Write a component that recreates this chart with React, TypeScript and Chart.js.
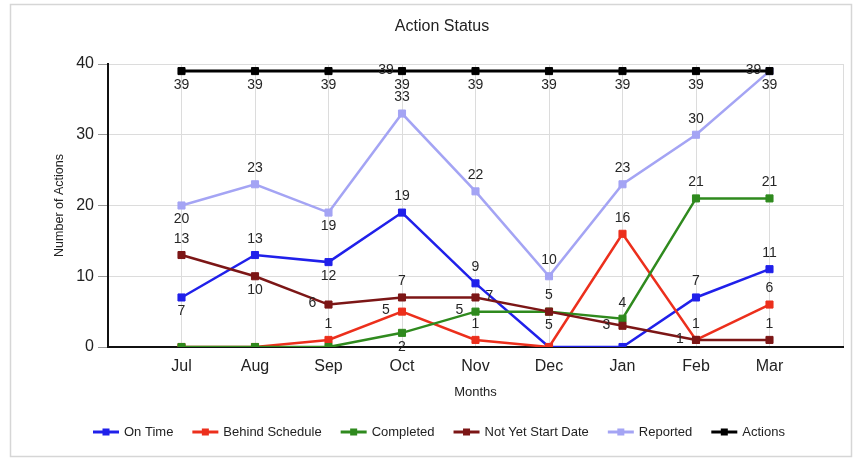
import React, { useEffect, useRef } from 'react';
import { Chart, registerables } from 'chart.js';

Chart.register(...registerables);

const months = ['Jul', 'Aug', 'Sep', 'Oct', 'Nov', 'Dec', 'Jan', 'Feb', 'Mar'];
const yTicks = [0, 10, 20, 30, 40];
const seriesNames = ['On Time', 'Behind Schedule', 'Completed', 'Not Yet Start Date', 'Reported', 'Actions'];

const onTime = [7, 13, 12, 19, 9, 0, 0, 7, 11];
const behindSchedule = [0, 0, 1, 5, 1, 0, 16, 1, 6];
const completed = [0, 0, 0, 2, 5, 5, 4, 21, 21];
const notYetStart = [13, 10, 6, 7, 7, 5, 3, 1, 1];
const reported = [20, 23, 19, 33, 22, 10, 23, 30, 39];
const actions = [39, 39, 39, 39, 39, 39, 39, 39, 39];

// label placement per point: a = above, b = below, l = left, r = right, '' = none
const onTimePos = ['b', 'a', 'b', 'a', 'a', '', '', 'a', 'a'];
const behindPos = ['', '', 'a', 'l', 'a', '', 'a', 'a', 'a'];
const completedPos = ['', '', '', 'b', 'l', 'a', 'a', 'a', 'a'];
const notYetPos = ['a', 'b', 'l', 'a', 'r', 'b', 'l', 'l', 'a'];
const reportedPos = ['b', 'a', 'b', 'a', 'a', 'a', 'a', 'a', 'l'];
const actionsPos = ['b', 'b', 'b', 'lb', 'b', 'b', 'b', 'b', 'b'];

const colors = ['#2020ea', '#ec2f1c', '#2f8a1e', '#7c1616', '#a4a4f4', '#000000'];
const seriesValues = [onTime, behindSchedule, completed, notYetStart, reported, actions];
const seriesPos = [onTimePos, behindPos, completedPos, notYetPos, reportedPos, actionsPos];

const FONT = "'Liberation Sans', Arial, Helvetica, sans-serif";

const decorPlugin = {
  id: 'decor',
  beforeDraw(chart: any) {
    const ctx = chart.ctx;
    ctx.save();
    ctx.fillStyle = '#ffffff';
    ctx.fillRect(0, 0, chart.width, chart.height);
    ctx.strokeStyle = '#d6d6d6';
    ctx.lineWidth = 1.5;
    ctx.strokeRect(10.5, 4.5, 841, 452);
    ctx.restore();
  },
  afterDatasetsDraw(chart: any) {
    const ctx = chart.ctx;
    ctx.save();
    ctx.font = `14px ${FONT}`;
    ctx.fillStyle = '#262626';
    ctx.textAlign = 'center';
    ctx.textBaseline = 'middle';
    chart.data.datasets.forEach((ds: any, di: number) => {
      const meta = chart.getDatasetMeta(di);
      const pos = seriesPos[di];
      meta.data.forEach((pt: any, i: number) => {
        const v = seriesValues[di][i];
        const p = pos[i] || '';
        for (const c of p) {
          let x = pt.x;
          let y = pt.y;
          if (c === 'a') y -= 16;
          if (c === 'b') y += 14;
          if (c === 'l') { x -= 16; y -= 1; }
          if (c === 'r') { x += 14; y -= 1; }
          ctx.fillText(String(v), x, y);
        }
      });
    });
    ctx.restore();
  },
  afterDraw(chart: any) {
    const ctx = chart.ctx;
    ctx.save();
    // title
    ctx.font = `16px ${FONT}`;
    ctx.fillStyle = '#222';
    ctx.textAlign = 'center';
    ctx.textBaseline = 'middle';
    ctx.fillText('Action Status', 442, 27);
    // legend
    ctx.font = `13px ${FONT}`;
    ctx.textAlign = 'left';
    let x = 93;
    const y = 432;
    chart.data.datasets.forEach((ds: any) => {
      ctx.strokeStyle = ds.borderColor;
      ctx.fillStyle = ds.borderColor;
      ctx.lineWidth = 3;
      ctx.beginPath();
      ctx.moveTo(x, y);
      ctx.lineTo(x + 26, y);
      ctx.stroke();
      ctx.fillRect(x + 13 - 3.5, y - 3.5, 7, 7);
      ctx.fillStyle = '#222';
      ctx.fillText(ds.label, x + 31, y);
      x += 31 + ctx.measureText(ds.label).width + 19;
    });
    ctx.restore();
  },
};

export default function App() {
  const ref = useRef<HTMLCanvasElement | null>(null);

  useEffect(() => {
    document.body.style.margin = '0';
    const canvas = ref.current;
    if (!canvas) return;
    const datasets = seriesNames.map((name, di) => ({
      label: name,
      data: months.map((_, i) => ({ x: i + 1, y: seriesValues[di][i] })),
      borderColor: colors[di],
      backgroundColor: colors[di],
      borderWidth: di === 5 ? 3 : 2.5,
      pointStyle: 'rect',
      pointRadius: 5,
      pointBorderWidth: 1,
      tension: 0,
      order: seriesNames.length - di,
    }));
    const chart = new Chart(canvas, {
      type: 'line',
      data: { datasets },
      plugins: [decorPlugin],
      options: {
        responsive: false,
        animation: false,
        devicePixelRatio: 1,
        layout: { padding: { left: 0, right: 21, top: 64, bottom: 50 } },
        plugins: {
          legend: { display: false },
          title: { display: false },
          tooltip: { enabled: false },
        },
        scales: {
          x: {
            type: 'linear',
            min: 0,
            max: months.length + 1,
            afterFit: (s: any) => { s.height = 61; },
            afterBuildTicks: (s: any) => {
              s.ticks = Array.from({ length: months.length + 2 }, (_, i) => ({ value: i }));
            },
            ticks: {
              autoSkip: false,
              maxRotation: 0,
              padding: 10,
              color: '#222',
              font: { family: FONT, size: 16 },
              callback: (v: any) => months[Number(v) - 1] ?? '',
            },
            grid: { color: '#dcdcdc', lineWidth: 1, drawTicks: false },
            border: { color: '#111', width: 2 },
            title: {
              display: true,
              text: 'Months',
              color: '#222',
              font: { family: FONT, size: 13 },
              padding: { top: 0, bottom: 8 },
            },
          },
          y: {
            min: 0,
            max: 40,
            afterFit: (s: any) => { s.width = 108; },
            afterBuildTicks: (s: any) => {
              s.ticks = yTicks.map((v) => ({ value: v }));
            },
            ticks: {
              padding: 4,
              color: '#222',
              font: { family: FONT, size: 16 },
            },
            grid: { color: '#dcdcdc', lineWidth: 1, tickLength: 10, tickColor: '#999' },
            border: { color: '#111', width: 2 },
            title: {
              display: true,
              text: 'Number of Actions',
              color: '#222',
              font: { family: FONT, size: 12.5 },
              padding: { top: 52, bottom: 0 },
            },
          },
        },
      },
    });
    return () => chart.destroy();
  }, []);

  return (
    <div style={{ width: 864, height: 458 }}>
      <canvas ref={ref} width={864} height={458} style={{ display: 'block', width: 864, height: 458 }} />
    </div>
  );
}
